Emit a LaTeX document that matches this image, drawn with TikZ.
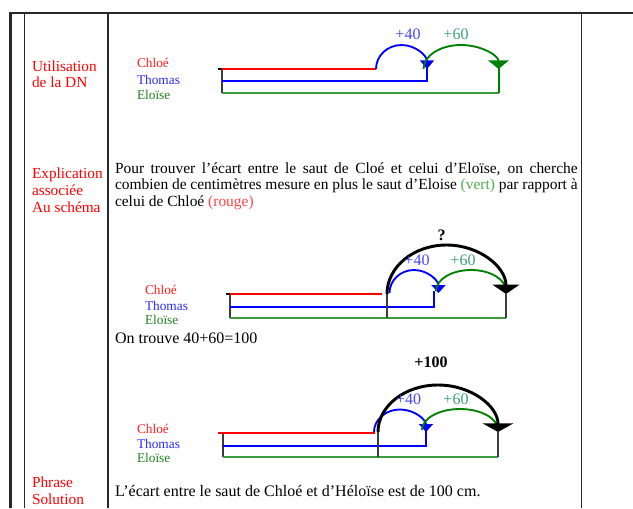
\documentclass[tikz,border=0pt]{standalone}
\usepackage{fontspec}
\setmainfont{Liberation Serif}
\usetikzlibrary{arrows.meta}
\definecolor{cred}{RGB}{255,0,0}
\definecolor{cblue}{RGB}{0,0,255}
\definecolor{cgreen}{RGB}{0,128,0}
\definecolor{lgreen}{RGB}{60,155,60}
\definecolor{nred}{RGB}{255,30,30}
\definecolor{nblue}{RGB}{40,40,255}
\definecolor{ngreen}{RGB}{30,130,30}
\definecolor{pblue}{RGB}{70,70,255}
\definecolor{pgreen}{RGB}{60,160,120}
\definecolor{vert}{RGB}{80,170,80}
\definecolor{rouge}{RGB}{255,70,70}
\definecolor{frame}{RGB}{40,40,40}
\definecolor{gline}{RGB}{60,60,60}
\tikzset{
  rowlabel/.style={anchor=base west, text=cred, font=\fontsize{11.5}{13}\selectfont},
  body/.style={anchor=base west, font=\fontsize{12}{14}\selectfont},
  para/.style={anchor=base west, font=\fontsize{11.6}{14}\selectfont},
  who/.style={anchor=base west, font=\fontsize{10}{12}\selectfont},
  jump/.style={anchor=center, font=\fontsize{12}{14}\selectfont},
  redl/.style={draw=cred, line width=1.5pt},
  bluel/.style={draw=cblue, line width=1.5pt},
  greenl/.style={draw=lgreen, line width=1.5pt},
  bluearc/.style={draw=cblue, line width=1.4pt},
  greenarc/.style={draw=cgreen, line width=1.4pt},
  blackarc/.style={draw=black, line width=2.2pt},
  grayv/.style={draw=gline, line width=1pt},
}
\begin{document}
\begin{tikzpicture}[x=0.75pt,y=-0.75pt, every node/.style={inner sep=0pt, outer sep=0pt}]
\useasboundingbox (0,0) rectangle (633,508);
% table frame
\draw[frame, line width=1.5pt] (9,13) -- (633,13);
\draw[frame, line width=2.25pt] (10.5,12) -- (10.5,508);
\draw[frame, line width=0.8pt] (24.5,13) -- (24.5,508);
\draw[frame, line width=1pt] (108,13) -- (108,508);
\draw[frame, line width=0.8pt] (581.5,13) -- (581.5,508);

% row labels
\node[rowlabel] (l1a) at (32,71.7) {Utilisation};
\node[rowlabel] (l1b) at (32,87.7) {de la DN};
\node[rowlabel] (l2a) at (32,178) {Explication};
\node[rowlabel] (l2b) at (32,195) {associée};
\node[rowlabel] (l2c) at (32,212) {Au schéma};
\node[rowlabel] (l3a) at (32,487) {Phrase};
\node[rowlabel] (l3b) at (32,504) {Solution};

% ---------- diagram 1
\node[who, text=nred] (a1) at (137,67.8) {Chloé};
\node[who, text=nblue] (a2) at (137,84.5) {Thomas};
\node[who, text=ngreen] (a3) at (137,99.5) {Eloïse};
\coordinate (d1r0) at (222,69);
\coordinate (d1r1) at (376,69);
\coordinate (d1b0) at (222,81);
\coordinate (d1b1) at (427,81);
\coordinate (d1b2) at (427,62);
\coordinate (d1g0) at (222,93);
\coordinate (d1g1) at (499,93);
\coordinate (d1g2) at (499,62);
\coordinate (d1t) at (218,69);
\coordinate (d1gs) at (423.5,69);
\draw[black, line width=0.8pt] (d1t) -- (d1r0);
\draw[grayv] (d1r0) -- (d1g0);
\draw[redl] (d1r0) -- (d1r1);
\draw[bluel] (d1b0) -- (d1b1) -- (d1b2);
\draw[greenl] (d1g0) -- (d1g1);
\draw[draw=cgreen, line width=1.2pt] (d1g1) -- (d1g2);
\draw[bluearc, -{Triangle[width=10.5pt,length=6.5pt]}] (d1r1) arc[start angle=180, end angle=360, x radius=25.5, y radius=24];
\draw[greenarc, -{Triangle[width=15.5pt,length=6.5pt]}] (d1gs) arc[start angle=180, end angle=360, x radius=37.5, y radius=24];
\node[jump, text=pblue] (p40a) at (408,34.5) {+40};
\node[jump, text=pgreen] (p60a) at (456,34.5) {+60};

% ---------- explanation
\node[para] (e1) at (115,173) {\makebox[347pt][s]{Pour trouver l’écart entre le saut de Cloé et celui d’Eloïse, on cherche}};
\node[para] (e2) at (115,189.5) {\makebox[347pt][s]{combien de centimètres mesure en plus le saut d’Eloise \textcolor{vert}{(vert)} par rapport à}};
\node[para] (e3) at (115,206) {celui de Chloé \textcolor{rouge}{(rouge)}};

% ---------- diagram 2
\node[who, text=nred] (b1) at (145,294.5) {Chloé};
\node[who, text=nblue] (b2) at (145,310.5) {Thomas};
\node[who, text=ngreen] (b3) at (145,324.5) {Eloïse};
\coordinate (d2t) at (226,294);
\coordinate (d2r0) at (230,294);
\coordinate (d2r1) at (382,294);
\coordinate (d2b0) at (230,307);
\coordinate (d2b1) at (434,307);
\coordinate (d2b2) at (434,291);
\coordinate (d2g0) at (230,318);
\coordinate (d2g1) at (506,318);
\coordinate (d2g2) at (506,294);
\coordinate (d2k0) at (387,294);
\coordinate (d2k1) at (387,318);
\coordinate (d2bs) at (389.5,293);
\coordinate (d2gs) at (436,291);
\draw[black, line width=0.8pt] (d2t) -- (d2r0);
\draw[grayv] (d2r0) -- (d2g0);
\draw[redl] (d2r0) -- (d2r1);
\draw[bluel] (d2b0) -- (d2b1) -- (d2b2);
\draw[greenl] (d2g0) -- (d2g1);
\draw[grayv] (d2g1) -- (d2g2);
\draw[grayv] (d2k1) -- (d2k0);
\draw[bluearc, -{Triangle[width=10.5pt,length=6pt]}] (d2bs) arc[start angle=180, end angle=360, x radius=24.5, y radius=23];
\draw[greenarc] (d2gs) arc[start angle=180, end angle=360, x radius=35, y radius=21];
\draw[blackarc, -{Triangle[width=20pt,length=7pt]}] (d2k0) arc[start angle=180, end angle=360, x radius=59.5, y radius=49];
\node[jump, font=\fontsize{12}{14}\selectfont\bfseries] (q) at (441.7,235) {?};
\node[jump, text=pblue] (p40b) at (417,260) {+40};
\node[jump, text=pgreen] (p60b) at (463,260) {+60};
\node[body] (on) at (115,343) {On trouve 40+60=100};

% ---------- diagram 3
\node[who, text=nred] (c1) at (137,433.5) {Chloé};
\node[who, text=nblue] (c2) at (137,448.5) {Thomas};
\node[who, text=ngreen] (c3) at (137,462.5) {Eloïse};
\coordinate (d3r0) at (218,433);
\coordinate (d3r1) at (375,433);
\coordinate (d3v0) at (223,433);
\coordinate (d3b0) at (223,446);
\coordinate (d3b1) at (426,446);
\coordinate (d3b2) at (426,430);
\coordinate (d3g0) at (223,457);
\coordinate (d3g1) at (498,457);
\coordinate (d3g2) at (498,432);
\coordinate (d3k0) at (378,432);
\coordinate (d3k1) at (378,457);
\coordinate (d3bs) at (374,432);
\coordinate (d3gs) at (422,430);
\draw[grayv] (d3v0) -- (d3g0);
\draw[redl] (d3r0) -- (d3r1);
\draw[bluel] (d3b0) -- (d3b1) -- (d3b2);
\draw[greenl] (d3g0) -- (d3g1);
\draw[grayv] (d3g1) -- (d3g2);
\draw[grayv] (d3k1) -- (d3k0);
\draw[bluearc, -{Triangle[width=10.5pt,length=6pt]}] (d3bs) arc[start angle=180, end angle=360, x radius=26, y radius=22.5];
\draw[greenarc] (d3gs) arc[start angle=180, end angle=360, x radius=38, y radius=21];
\draw[blackarc, -{Triangle[width=23pt,length=6.5pt]}] (d3k0) arc[start angle=180, end angle=360, x radius=60, y radius=47];
\node[jump, font=\fontsize{12}{14}\selectfont\bfseries] (p100) at (431,362.7) {+100};
\node[jump, text=pblue] (p40c) at (408.7,399) {+40};
\node[jump, text=pgreen] (p60c) at (456,399) {+60};
\node[body] (sol) at (115,496.7) {L’écart entre le saut de Chloé et d’Héloïse est de 100 cm.};
\end{tikzpicture}
\end{document}
